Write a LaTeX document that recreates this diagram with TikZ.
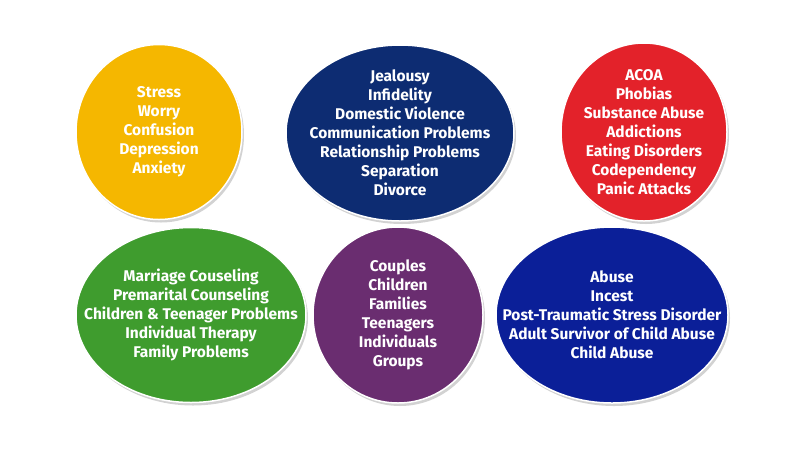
\documentclass[tikz,border=0pt]{standalone}
\usepackage{fontspec}
\setmainfont{Fira Sans}
\usetikzlibrary{positioning,shapes.geometric,shadows}
\definecolor{sunny}{HTML}{F5B700}
\definecolor{navy}{HTML}{0D2C72}
\definecolor{scarlet}{HTML}{E3222A}
\definecolor{grass}{HTML}{3F9C2E}
\definecolor{plum}{HTML}{6A2D70}
\definecolor{royal}{HTML}{0B1F98}
\tikzset{
  bubble/.style={ellipse,draw=white,line width=1.5pt,inner sep=0pt,
    drop shadow={shadow xshift=2pt,shadow yshift=-3pt,opacity=0.35}},
  caption/.style={text=white,align=center,inner sep=0pt,
    font=\fontsize{15.5}{19}\selectfont\bfseries},
}
\begin{document}
\begin{tikzpicture}[x=1pt,y=-1pt]
      \useasboundingbox[fill=white] (0,0) rectangle (800,451);
      \node[bubble,fill=sunny,minimum width=166pt,minimum height=175pt] (mood) at (159,132) {};
      \node[caption] (moodtext) at (mood.center) {Stress\\Worry\\Confusion\\Depression\\Anxiety};
      \node[bubble,fill=navy,minimum width=228pt,minimum height=176pt] (couple) at (400,133) {};
      \node[caption] (coupletext) at (couple.center)
        {Jealousy\\Infidelity\\Domestic Violence\\Communication Problems\\Relationship Problems\\Separation\\Divorce};
      \node[bubble,fill=scarlet,minimum width=166pt,minimum height=178pt] (habit) at (644,132) {};
      \node[caption] (habittext) at (habit.center)
        {ACOA\\Phobias\\Substance Abuse\\Addictions\\Eating Disorders\\Codependency\\Panic Attacks};
      \node[bubble,fill=grass,minimum width=230pt,minimum height=175pt] (therapy) at (191,315) {};
      \node[caption] (therapytext) at (therapy.center)
        {Marriage Couseling\\Premarital Counseling\\Children \& Teenager Problems\\Individual Therapy\\Family Problems};
      \node[bubble,fill=plum,minimum width=170pt,minimum height=176pt] (client) at (398,315) {};
      \node[caption] (clienttext) at (client.center)
        {Couples\\Children\\Families\\Teenagers\\Individuals\\Groups};
      \node[bubble,fill=royal,minimum width=232pt,minimum height=176pt] (abuse) at (612,315) {};
      \node[caption] (abusetext) at (abuse.center)
        {Abuse\\Incest\\Post-Traumatic Stress Disorder\\Adult Survivor of Child Abuse\\Child Abuse};
\end{tikzpicture}
\end{document}
